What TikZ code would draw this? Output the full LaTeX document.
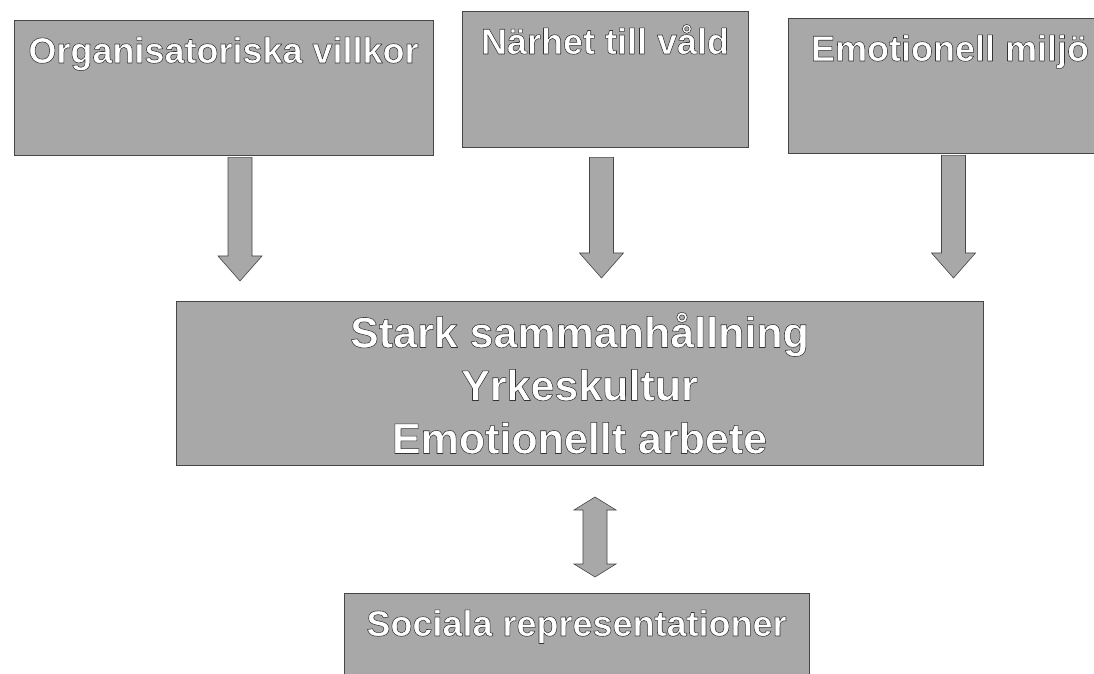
\documentclass[tikz,border=0pt]{standalone}
\usepackage{fontspec}
\setmainfont{Liberation Sans}
\usepackage{tikz}
\usetikzlibrary{positioning, calc}
\definecolor{BoxGray}{RGB}{168,168,168}
\definecolor{EdgeGray}{RGB}{70,70,70}
% white letters with a thin dark rim (fill, then stroke)
\newcommand{\outl}[1]{\special{pdf:literal direct 0.2 G 0.55 w 1 j 2 Tr}#1\special{pdf:literal direct 0 Tr}}
\tikzset{
  topbox/.style={draw=EdgeGray, line width=0.7pt, fill=BoxGray, inner sep=0pt,
    text=white, font=\bfseries\fontsize{36}{43}\selectfont, text height=43pt},
  midbox/.style={draw=EdgeGray, line width=0.7pt, fill=BoxGray, inner sep=0pt, align=center,
    text=white, font=\bfseries\fontsize{43}{53}\selectfont},
  blockarr/.style={draw=EdgeGray, line width=0.6pt, fill=BoxGray, to path={
    let \p1=(\tikztostart), \p2=(\tikztotarget) in
    (\x1-12pt,\y1) -- (\x1+12pt,\y1) -- (\x1+12pt,\y2+25pt) -- (\x1+22pt,\y2+25pt)
    -- (\x2,\y2) -- (\x1-22pt,\y2+25pt) -- (\x1-12pt,\y2+25pt) -- cycle}},
  dblarr/.style={draw=EdgeGray, line width=0.6pt, fill=BoxGray, to path={
    let \p1=(\tikztostart), \p2=(\tikztotarget) in
    (\x1,\y1) -- (\x1+21pt,\y1-13pt) -- (\x1+12pt,\y1-13pt) -- (\x1+12pt,\y2+13pt)
    -- (\x1+21pt,\y2+13pt) -- (\x2,\y2) -- (\x1-21pt,\y2+13pt) -- (\x1-12pt,\y2+13pt)
    -- (\x1-12pt,\y1-13pt) -- (\x1-21pt,\y1-13pt) -- cycle}},
}

\begin{document}
\begin{tikzpicture}[x=1pt, y=1pt]
  \useasboundingbox (0,0) rectangle (1094,673);
  \clip (0,0) rectangle (1094,673);
  % causes
  \node[topbox, minimum width=419pt, minimum height=135pt, text depth=92pt] (org) at (223.5,585.5) {\outl{Organisatoriska villkor}};
  \node[topbox, minimum width=286pt, minimum height=136pt, text depth=93pt] (near) at (605,594) {\outl{Närhet till våld}};
  \node[topbox, minimum width=324pt, minimum height=135pt, text depth=92pt] (emo) at (950,587.5) {\outl{Emotionell miljö}};
  % group level
  \node[midbox, minimum width=807pt, minimum height=164pt] (mid) at (579.5,290)
    {\outl{Stark sammanhållning}\\\outl{Yrkeskultur}\\\outl{Emotionellt arbete}};
  \node[topbox, minimum width=465pt, minimum height=100pt, text depth=57pt] (soc) at (576.5,30) {\outl{Sociala representationer}};
  % arrow tips
  \coordinate (t1) at (240,392);
  \coordinate (t2) at (601.5,395);
  \coordinate (t3) at (953.5,395);
  \coordinate (dtop) at (595,176);
  \coordinate (dbot) at (595,96);
  \draw[blockarr] ($(org.south -| t1)+(0,-2)$) to (t1);
  \draw[blockarr] ($(near.south -| t2)+(0,-10)$) to (t2);
  \draw[blockarr] ($(emo.south -| t3)+(0,-2)$) to (t3);
  \draw[dblarr] (dtop) to (dbot);
\end{tikzpicture}
\end{document}
